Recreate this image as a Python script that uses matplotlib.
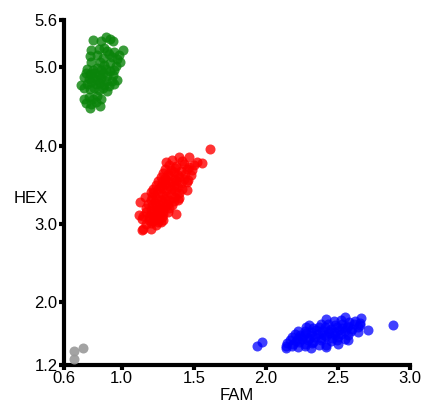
import matplotlib
matplotlib.use("Agg")
import matplotlib.pyplot as plt

# ---------------- data ----------------
green_x = [0.80, 0.86, 0.89, 0.92, 0.94,
           0.79, 0.84, 0.88, 0.90, 0.95, 0.98, 1.01,
           0.78, 0.83, 0.87, 0.91, 0.93, 0.97, 0.99,
           0.79, 0.85, 0.88, 0.92, 0.96,
           0.76, 0.80, 0.83, 0.86, 0.89, 0.92, 0.95,
           0.75, 0.78, 0.81, 0.84, 0.87, 0.90, 0.94,
           0.74, 0.77, 0.80, 0.83, 0.86, 0.89, 0.93, 0.97,
           0.72, 0.76, 0.79, 0.82, 0.85, 0.88, 0.91, 0.95,
           0.74, 0.78, 0.81, 0.84, 0.87, 0.90,
           0.74, 0.77, 0.80, 0.83, 0.86,
           0.75, 0.79, 0.82, 0.85, 0.78]
green_y = [5.35, 5.33, 5.39, 5.36, 5.33,
           5.22, 5.23, 5.25, 5.21, 5.20, 5.16, 5.22,
           5.14, 5.15, 5.12, 5.17, 5.13, 5.10, 5.06,
           5.07, 5.06, 5.03, 5.05, 5.01,
           4.98, 4.96, 4.99, 4.97, 4.98, 4.95, 4.96,
           4.92, 4.91, 4.93, 4.90, 4.92, 4.89, 4.90,
           4.87, 4.85, 4.87, 4.84, 4.86, 4.83, 4.82, 4.84,
           4.77, 4.79, 4.81, 4.79, 4.80, 4.77, 4.76, 4.79,
           4.73, 4.72, 4.74, 4.71, 4.73, 4.70,
           4.60, 4.62, 4.59, 4.63, 4.60,
           4.54, 4.53, 4.55, 4.50, 4.48]

red_x = [1.40, 1.47,
         1.31, 1.35, 1.42, 1.52, 1.56,
         1.33, 1.38, 1.43, 1.47, 1.50,
         1.30, 1.34, 1.37, 1.41, 1.45, 1.49,
         1.29, 1.32, 1.36, 1.39, 1.44, 1.48,
         1.27, 1.30, 1.33, 1.37, 1.40, 1.43, 1.46,
         1.25, 1.28, 1.31, 1.34, 1.38, 1.41, 1.45,
         1.24, 1.27, 1.30, 1.33, 1.36, 1.39, 1.42,
         1.22, 1.25, 1.28, 1.31, 1.34, 1.37, 1.40, 1.45,
         1.20, 1.22, 1.25, 1.28, 1.31, 1.34, 1.37, 1.40,
         1.16, 1.21, 1.24, 1.27, 1.30, 1.33, 1.36, 1.39,
         1.13, 1.20, 1.23, 1.26, 1.29, 1.32, 1.35,
         1.18, 1.21, 1.24, 1.27, 1.30, 1.33,
         1.17, 1.20, 1.23, 1.26, 1.29, 1.32,
         1.17, 1.20, 1.23, 1.26, 1.29, 1.38,
         1.12, 1.15, 1.19, 1.22, 1.25, 1.28,
         1.14, 1.19, 1.22, 1.25, 1.29,
         1.17, 1.20, 1.24, 1.27,
         1.15, 1.20, 1.14,
         1.61]
red_y = [3.86, 3.85,
         3.79, 3.81, 3.80, 3.79, 3.78,
         3.75, 3.74, 3.76, 3.73, 3.75,
         3.70, 3.69, 3.71, 3.68, 3.70, 3.69,
         3.65, 3.64, 3.66, 3.63, 3.64, 3.62,
         3.60, 3.59, 3.61, 3.58, 3.60, 3.57, 3.56,
         3.55, 3.54, 3.56, 3.53, 3.55, 3.52, 3.54,
         3.50, 3.49, 3.51, 3.48, 3.50, 3.47, 3.44,
         3.45, 3.44, 3.46, 3.43, 3.45, 3.42, 3.40, 3.43,
         3.41, 3.40, 3.39, 3.38, 3.36, 3.38, 3.35, 3.33,
         3.34, 3.35, 3.33, 3.31, 3.32, 3.30, 3.29, 3.31,
         3.28, 3.30, 3.28, 3.26, 3.27, 3.25, 3.24,
         3.25, 3.24, 3.22, 3.21, 3.22, 3.20,
         3.20, 3.18, 3.17, 3.16, 3.17, 3.15,
         3.15, 3.13, 3.12, 3.11, 3.13, 3.13,
         3.11, 3.10, 3.09, 3.08, 3.07, 3.09,
         3.07, 3.05, 3.04, 3.03, 3.05,
         3.00, 3.01, 2.99, 3.02,
         2.94, 2.94, 2.92,
         3.96]

blue_x = [2.42, 2.55, 2.66,
          2.47, 2.52, 2.58, 2.62, 2.65,
          2.30, 2.38, 2.43, 2.48, 2.53, 2.57, 2.61, 2.65,
          2.28, 2.33, 2.37, 2.41, 2.45, 2.49, 2.53, 2.56, 2.60, 2.64, 2.71,
          2.22, 2.27, 2.31, 2.35, 2.39, 2.43, 2.47, 2.51, 2.55, 2.59, 2.64,
          2.20, 2.24, 2.28, 2.32, 2.36, 2.40, 2.44, 2.48, 2.52, 2.57,
          2.18, 2.22, 2.26, 2.30, 2.34, 2.38, 2.42, 2.46, 2.50, 2.55,
          2.17, 2.21, 2.25, 2.29, 2.33, 2.38, 2.45, 2.49, 2.57,
          2.15, 2.19, 2.23, 2.27, 2.32, 2.37, 2.42, 2.50,
          2.14, 2.18, 2.22, 2.27, 2.42,
          2.14, 2.31,
          1.94, 1.97, 2.88]
blue_y = [1.79, 1.81, 1.80,
          1.76, 1.77, 1.75, 1.76, 1.74,
          1.71, 1.72, 1.73, 1.71, 1.72, 1.70, 1.73, 1.71,
          1.68, 1.67, 1.69, 1.68, 1.66, 1.68, 1.67, 1.69, 1.66, 1.68, 1.65,
          1.63, 1.64, 1.62, 1.65, 1.63, 1.64, 1.62, 1.65, 1.63, 1.64, 1.62,
          1.60, 1.59, 1.61, 1.59, 1.60, 1.58, 1.61, 1.59, 1.60, 1.58,
          1.56, 1.55, 1.57, 1.55, 1.56, 1.54, 1.57, 1.55, 1.56, 1.53,
          1.52, 1.51, 1.53, 1.52, 1.50, 1.52, 1.51, 1.52, 1.52,
          1.48, 1.47, 1.49, 1.47, 1.48, 1.46, 1.46, 1.47,
          1.44, 1.45, 1.43, 1.44, 1.43,
          1.42, 1.42,
          1.45, 1.49, 1.71]

gray_x = [0.67, 0.67, 0.73]
gray_y = [1.38, 1.28, 1.42]

x_ticks = [0.6, 1.0, 1.5, 2.0, 2.5, 3.0]
x_tick_labels = ["0.6", "1.0", "1.5", "2.0", "2.5", "3.0"]
y_ticks = [1.2, 2.0, 3.0, 4.0, 5.0, 5.6]
y_tick_labels = ["1.2", "2.0", "3.0", "4.0", "5.0", "5.6"]

# ---------------- plot ----------------
plt.rcParams["font.family"] = ["Liberation Sans", "DejaVu Sans"]

fig = plt.figure(figsize=(4.21, 4.03), dpi=100)
ax = fig.add_axes([0.152, 0.094, 0.822, 0.856])

ms = 52
ax.scatter(gray_x, gray_y, s=ms, color="#999999", alpha=0.9, linewidths=0, clip_on=False, zorder=3)
ax.scatter(green_x, green_y, s=ms, color="#0a840a", alpha=0.8, linewidths=0, clip_on=False, zorder=3)
ax.scatter(red_x, red_y, s=ms, color="#ff0000", alpha=0.8, linewidths=0, clip_on=False, zorder=3)
ax.scatter(blue_x, blue_y, s=ms, color="#0000ff", alpha=0.75, linewidths=0, clip_on=False, zorder=3)

ax.set_xlim(0.6, 3.0)
ax.set_ylim(1.2, 5.6)
ax.set_xticks(x_ticks)
ax.set_xticklabels(x_tick_labels)
ax.set_yticks(y_ticks)
ax.set_yticklabels(y_tick_labels)

for side in ["top", "right"]:
    ax.spines[side].set_visible(False)
for side in ["left", "bottom"]:
    ax.spines[side].set_linewidth(3.0)
    ax.spines[side].set_capstyle("projecting")

ax.tick_params(axis="both", direction="out", length=3.5, width=3.0,
               labelsize=12, pad=1, colors="black")

ax.set_xlabel("FAM", fontsize=12, labelpad=1)
ax.set_ylabel("HEX", fontsize=12, rotation=0)
ax.yaxis.set_label_coords(-0.095, 0.46)

fig.savefig("out.png", dpi=100)
